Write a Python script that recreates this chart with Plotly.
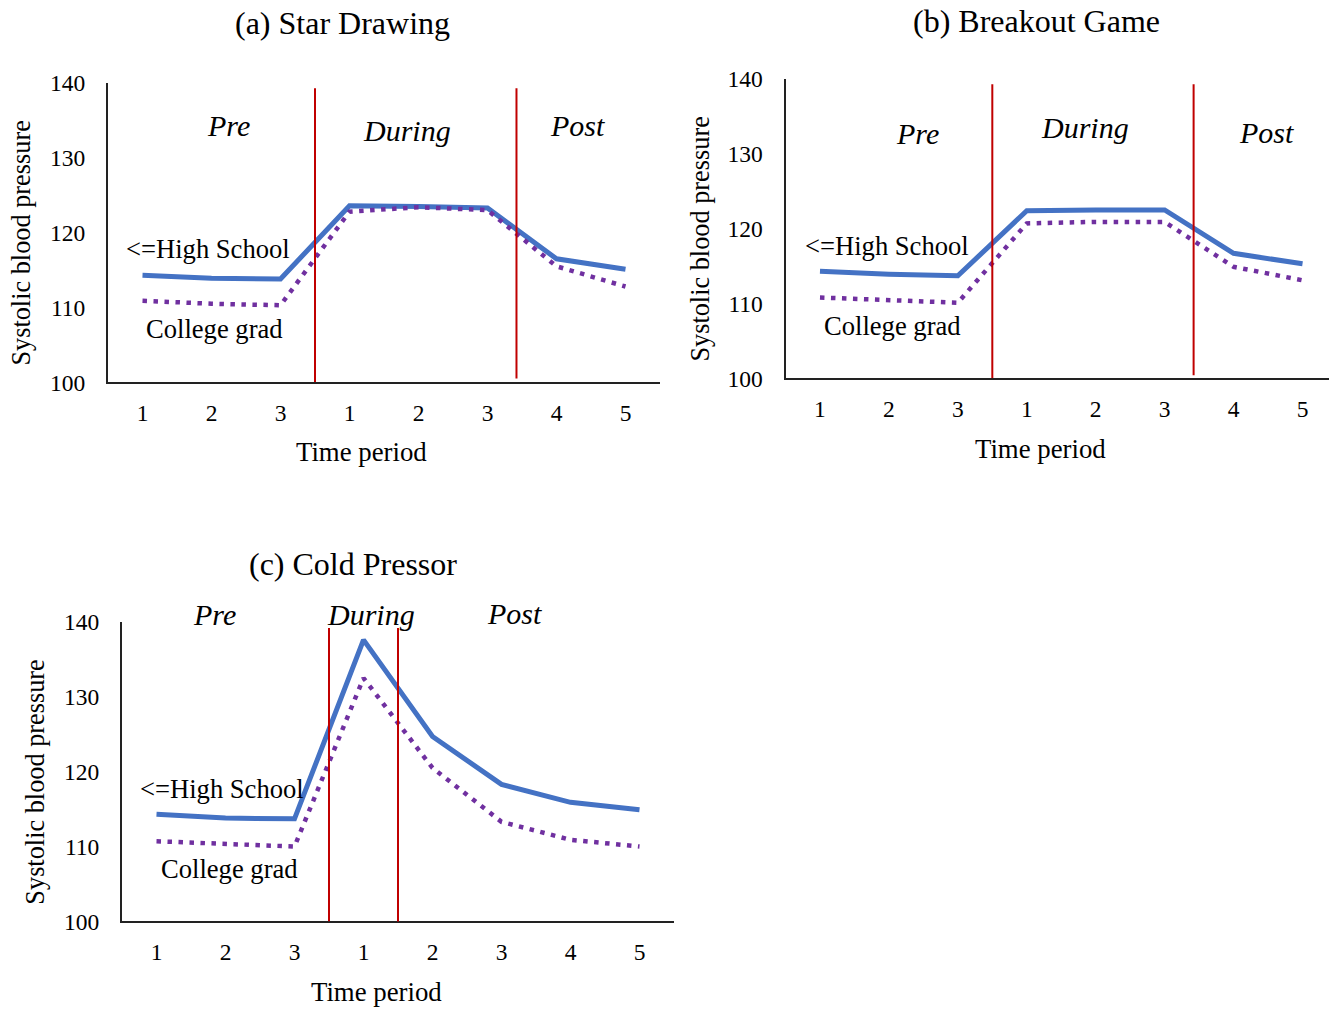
import plotly.graph_objects as go

# ---- data ----
tick_labels = ["1", "2", "3", "1", "2", "3", "4", "5"]
x_idx = list(range(8))

star_hs = [114.3, 113.9, 113.8, 123.6, 123.5, 123.3, 116.5, 115.1]
star_cg = [110.9, 110.5, 110.3, 122.8, 123.4, 123.0, 115.5, 112.8]

breakout_hs = [114.3, 113.9, 113.7, 122.4, 122.5, 122.5, 116.7, 115.3]
breakout_cg = [110.8, 110.4, 110.1, 120.7, 120.9, 120.9, 114.9, 113.1]

cold_hs = [114.3, 113.8, 113.7, 137.6, 124.7, 118.3, 115.9, 114.9]
cold_cg = [110.7, 110.3, 110.0, 132.5, 120.5, 113.3, 110.9, 110.0]

panel_titles = ["(a) Star Drawing", "(b) Breakout Game", "(c) Cold Pressor"]
series_names = ["<=High School", "College grad"]
phase_labels = ["Pre", "During", "Post"]
y_title = "Systolic blood pressure"
x_title = "Time period"

FONT = "Liberation Serif, Times New Roman, serif"
BLUE = "#4472C4"
PURPLE = "#7030A0"
RED = "#C00000"

# figure size and mapping from reference-image pixels to paper coordinates
WF, HF = 1329, 1010
OX = 8
OY, SY = 20, 0.976


def px(x):
    return (x - OX) / WF


def py(y):
    return 1 - ((y - OY) / SY) / HF


fig = go.Figure()

panels = [
    dict(x0=108, x1=660, ytop=82, ybot=382, hs=star_hs, cg=star_cg,
         vlines=[(2.5, 100, 139.3), (5.42, 100.5, 139.3)],
         title=(342, 22),
         phases=[(228, 125), (407, 130), (577, 125)],
         hs_lab=(208, 248), cg_lab=(214, 329),
         ytitle=(22, 243), xtitle=(362, 452)),
    dict(x0=785.5, x1=1337.5, ytop=78, ybot=378, hs=breakout_hs, cg=breakout_cg,
         vlines=[(2.5, 100, 139.3), (5.42, 100.4, 139.3)],
         title=(1036, 20),
         phases=[(917, 133), (1085, 127), (1266, 132)],
         hs_lab=(887, 245), cg_lab=(892, 326),
         ytitle=(701, 239), xtitle=(1040, 449)),
    dict(x0=122, x1=674, ytop=622, ybot=922, hs=cold_hs, cg=cold_cg,
         vlines=[(2.5, 100, 139.2), (3.5, 99.8, 139.2)],
         title=(353, 564),
         phases=[(215, 615), (371, 615), (514, 614)],
         hs_lab=(222, 789), cg_lab=(229, 870),
         ytitle=(36, 783), xtitle=(376, 993)),
]

shapes = []
annotations = []


def ann(text, x, y, size, angle=0):
    annotations.append(dict(text=text, x=px(x), y=py(y), xref="paper", yref="paper",
                            showarrow=False, textangle=angle,
                            font=dict(family=FONT, size=size, color="black"),
                            xanchor="center", yanchor="middle"))


for i, p in enumerate(panels):
    n = "" if i == 0 else str(i + 1)
    xa = "x" + n
    ya = "y" + n
    fig.add_trace(go.Scatter(x=x_idx, y=p["hs"], mode="lines", name=series_names[0],
                             line=dict(color=BLUE, width=5), xaxis=xa, yaxis=ya,
                             showlegend=False))
    fig.add_trace(go.Scatter(x=x_idx, y=p["cg"], mode="lines", name=series_names[1],
                             line=dict(color=PURPLE, width=4.5, dash="4.5px,6.5px"),
                             xaxis=xa, yaxis=ya, showlegend=False))
    xdom = [max(px(p["x0"]), 0), min(px(p["x1"]), 1.0)]
    ydom = [py(p["ybot"]), py(p["ytop"])]
    axcommon = dict(showgrid=False, zeroline=False, showline=True, linecolor="#222",
                    linewidth=2, ticks="", tickfont=dict(family=FONT, size=23.5, color="black"))
    fig.layout["xaxis" + n] = dict(domain=xdom, range=[-0.5, 7.5], tickvals=x_idx,
                                   ticktext=tick_labels, anchor=ya,
                                   ticklabelstandoff=8, **axcommon)
    fig.layout["yaxis" + n] = dict(domain=ydom, range=[100, 140],
                                   tickvals=[100, 110, 120, 130, 140], anchor=xa,
                                   ticklabelstandoff=16, **axcommon)
    for (xv, y0, y1) in p["vlines"]:
        shapes.append(dict(type="line", xref=xa, yref=ya, x0=xv, x1=xv, y0=y0, y1=y1,
                           line=dict(color=RED, width=2)))
    ann(panel_titles[i], p["title"][0], p["title"][1], 32)
    for lab, (lx, ly) in zip(phase_labels, p["phases"]):
        ann("<i>" + lab + "</i>", lx, ly, 30)
    ann(series_names[0], p["hs_lab"][0], p["hs_lab"][1], 26.6)
    ann(series_names[1], p["cg_lab"][0], p["cg_lab"][1], 26.6)
    ann(y_title, p["ytitle"][0], p["ytitle"][1], 26.3, angle=-90)
    ann(x_title, p["xtitle"][0], p["xtitle"][1], 26.8)

fig.update_layout(width=WF, height=HF, margin=dict(l=0, r=0, t=0, b=0),
                  paper_bgcolor="white", plot_bgcolor="white",
                  shapes=shapes, annotations=annotations,
                  font=dict(family=FONT, color="black"))

fig.write_html("out.html")
